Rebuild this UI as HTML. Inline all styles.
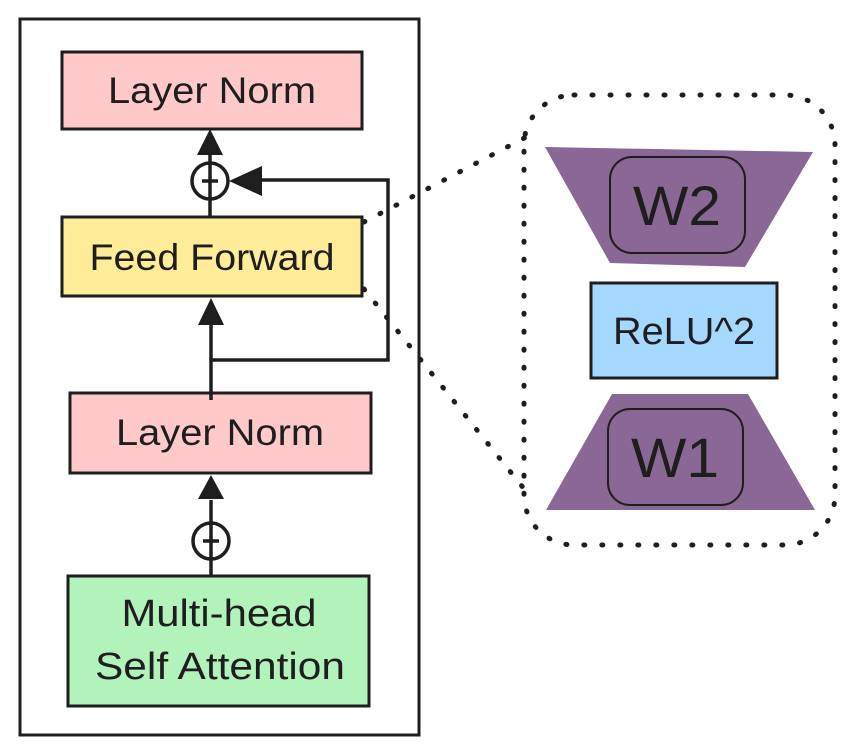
<!DOCTYPE html>
<html><head><style>
html,body{margin:0;padding:0;background:#fff;}
svg{display:block;}
text{font-family:"Liberation Sans",sans-serif;fill:#1e1e1e;text-anchor:middle;}
</style></head><body>
<svg width="855" height="754" viewBox="0 0 855 754" xmlns="http://www.w3.org/2000/svg">
<rect x="20" y="19" width="399" height="716" fill="none" stroke="#1e1e1e" stroke-width="3"/>
<rect x="62" y="52" width="300" height="77" fill="#ffc9c9" stroke="#1e1e1e" stroke-width="3"/>
<text x="212" y="103" font-size="37" textLength="208" lengthAdjust="spacingAndGlyphs">Layer Norm</text>
<rect x="62" y="217" width="300" height="79" fill="#ffec99" stroke="#1e1e1e" stroke-width="3"/>
<text x="212" y="270" font-size="37" textLength="245" lengthAdjust="spacingAndGlyphs">Feed Forward</text>
<rect x="70" y="393" width="301" height="80" fill="#ffc9c9" stroke="#1e1e1e" stroke-width="3"/>
<text x="220" y="445" font-size="37" textLength="208" lengthAdjust="spacingAndGlyphs">Layer Norm</text>
<rect x="68" y="576" width="301" height="130" fill="#b2f2bb" stroke="#1e1e1e" stroke-width="3"/>
<text x="219" y="626" font-size="38" textLength="195" lengthAdjust="spacingAndGlyphs">Multi-head</text>
<text x="220" y="679" font-size="38" textLength="250" lengthAdjust="spacingAndGlyphs">Self Attention</text>
<g stroke="#1e1e1e" stroke-width="3.5" fill="none">
<circle cx="210" cy="181" r="18"/>
<line x1="210" y1="217" x2="210" y2="150"/>
<line x1="202" y1="181" x2="218" y2="181"/>
<polyline points="211,400 211,360 388,360 388,180 255,180"/>
<line x1="211" y1="360" x2="211" y2="320"/>
<circle cx="211" cy="541" r="18"/>
<line x1="211" y1="576" x2="211" y2="500"/>
<line x1="203" y1="541" x2="219" y2="541"/>
</g>
<g fill="#1e1e1e">
<polygon points="210,129 197,155 223,155"/>
<polygon points="229,181 262,166 262,196"/>
<polygon points="211,298 198,325 224,325"/>
<polygon points="211,475 198,499 224,499"/>
</g>
<g stroke="#1e1e1e" stroke-width="5" stroke-dasharray="1 17" stroke-linecap="round" fill="none">
<rect x="524" y="95" width="311" height="450" rx="50"/>
<line x1="364" y1="222" x2="530" y2="135"/>
<line x1="364" y1="289" x2="525" y2="490"/>
</g>
<polygon points="545,147 813,152 745,267 610,263" fill="#8a6895"/>
<rect x="610" y="157" width="135" height="96" rx="22" fill="none" stroke="#1e1e1e" stroke-width="2"/>
<text x="677" y="225" font-size="56" textLength="88" lengthAdjust="spacingAndGlyphs">W2</text>
<rect x="591" y="283" width="186" height="95" fill="#a5d8ff" stroke="#1e1e1e" stroke-width="3"/>
<text x="684" y="344" font-size="38" textLength="142" lengthAdjust="spacingAndGlyphs">ReLU^2</text>
<polygon points="612,394 748,394 815,510 546,510" fill="#8a6895"/>
<rect x="608" y="409" width="135" height="96" rx="22" fill="none" stroke="#1e1e1e" stroke-width="2"/>
<text x="675" y="477" font-size="56" textLength="88" lengthAdjust="spacingAndGlyphs">W1</text>
</svg>
</body></html>
